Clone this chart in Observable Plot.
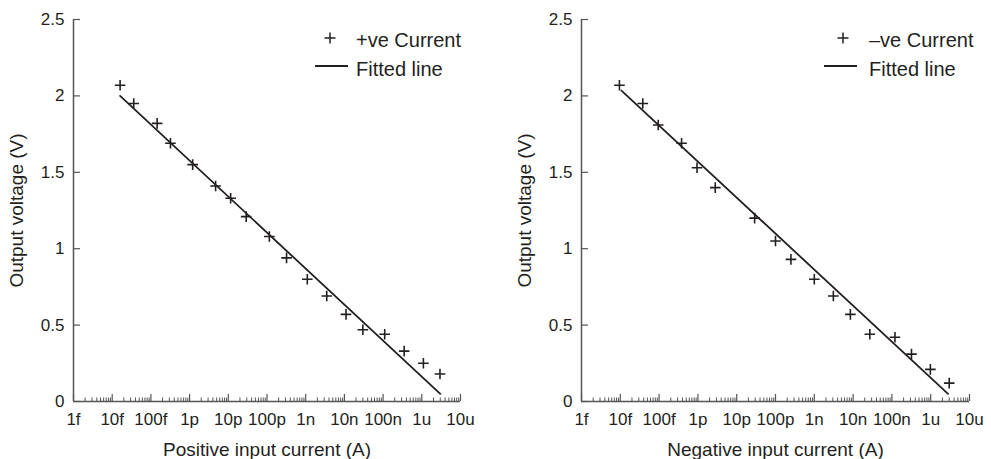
<!DOCTYPE html>
<html>
<head>
<meta charset="utf-8">
<script src="https://cdn.jsdelivr.net/npm/d3@7"></script>
<script src="https://cdn.jsdelivr.net/npm/@observablehq/plot@0.6"></script>
<style>
  body { margin: 0; background: #fff; }
  #wrap { position: relative; width: 991px; height: 459px; display: flex; font-family: "Liberation Sans", Arial, Helvetica, sans-serif; color: #231f20; }
  #wrap svg { display: block; overflow: visible; }
  .leg { position: absolute; font-size: 20px; line-height: 20px; white-space: nowrap; }
  g[aria-label="x-axis tick label"] text { font-size: 17px; }
  g[aria-label="y-axis tick label"] text { font-size: 17px; }
  g[aria-label="x-axis label"] text, g[aria-label="y-axis label"] text { font-size: 19px; }
</style>
</head>
<body>
<div id="wrap"></div>
<script>
// ---- data ----
const xTickValues = [1e-15, 1e-14, 1e-13, 1e-12, 1e-11, 1e-10, 1e-9, 1e-8, 1e-7, 1e-6, 1e-5];
const xTickLabels = ["1f", "10f", "100f", "1p", "10p", "100p", "1n", "10n", "100n", "1u", "10u"];
const yTickValues = [0, 0.5, 1, 1.5, 2, 2.5];
const yTickLabels = ["0", "0.5", "1", "1.5", "2", "2.5"];

// Positive input current panel
const posCurrent = [1.6e-14, 3.6e-14, 1.45e-13, 3.2e-13, 1.2e-12, 4.7e-12, 1.15e-11, 2.9e-11, 1.15e-10, 3.2e-10, 1.1e-9, 3.5e-9, 1.1e-8, 3.0e-8, 1.1e-7, 3.5e-7, 1.1e-6, 2.95e-6];
const posVoltage = [2.07, 1.95, 1.82, 1.69, 1.55, 1.41, 1.33, 1.21, 1.08, 0.94, 0.80, 0.69, 0.57, 0.47, 0.44, 0.33, 0.25, 0.18];
const posFitCurrent = [1.6e-14, 3.0e-6];
const posFitVoltage = [2.00, 0.05];

// Negative input current panel
const negCurrent = [9.5e-15, 3.8e-14, 9.5e-14, 3.8e-13, 9.5e-13, 2.8e-12, 2.9e-11, 1.0e-10, 2.5e-10, 1.0e-9, 3.1e-9, 8.5e-9, 2.7e-8, 1.2e-7, 3.2e-7, 9.8e-7, 3.0e-6];
const negVoltage = [2.07, 1.95, 1.81, 1.69, 1.53, 1.40, 1.20, 1.05, 0.93, 0.80, 0.69, 0.57, 0.44, 0.42, 0.31, 0.21, 0.12];
const negFitCurrent = [1.07e-14, 2.8e-6];
const negFitVoltage = [2.035, 0.05];

const posLegend = ["+ve Current", "Fitted line"];
const negLegend = ["\u2013ve Current", "Fitted line"];

// ---- drawing ----
const ink = "#231f20";
const axisInk = "#555";
const minorTicks = [];
for (let e = -15; e < -5; e++) for (let k = 2; k <= 9; k++) minorTicks.push(k * Math.pow(10, e));

const plusSymbol = {
  draw(ctx, size) {
    const r = Math.sqrt(size / Math.PI);
    ctx.moveTo(-r, 0); ctx.lineTo(r, 0);
    ctx.moveTo(0, -r); ctx.lineTo(0, r);
  }
};

function panel({width, marginRight, current, voltage, fitC, fitV, xLabel}) {
  const marginLeft = 73, marginTop = 19, marginBottom = 58, height = 459;
  const innerW = width - marginLeft - marginRight;
  const innerH = height - marginTop - marginBottom;
  const pts = current.map((c, i) => ({c, v: voltage[i]}));
  const fit = fitC.map((c, i) => ({c, v: fitV[i]}));
  return Plot.plot({
    width, height, marginLeft, marginRight, marginTop, marginBottom,
    style: {fontFamily: '"Liberation Sans", Arial, Helvetica, sans-serif', color: ink, background: "transparent", overflow: "visible"},
    x: {type: "log", domain: [1e-15, 1e-5]},
    y: {domain: [0, 2.5]},
    marks: [
      Plot.axisX(xTickValues, {
        anchor: "bottom", tickSize: 0, tickPadding: 11,
        tickFormat: d => xTickLabels[xTickValues.indexOf(d)],
        label: xLabel, labelAnchor: "center", labelArrow: "none", labelOffset: 54,
        fill: ink
      }),
      Plot.axisY(yTickValues, {
        anchor: "left", tickSize: 0, tickPadding: 9,
        tickFormat: d => yTickLabels[yTickValues.indexOf(d)],
        label: "Output voltage (V)", labelAnchor: "center", labelArrow: "none", labelOffset: 64,
        fill: ink
      }),
      Plot.tickY(yTickValues, {y: d => d, insetRight: innerW - 7, stroke: axisInk, strokeWidth: 1.2}),
      Plot.tickX(xTickValues, {x: d => d, insetTop: innerH - 7, stroke: axisInk, strokeWidth: 1.2}),
      Plot.tickX(minorTicks, {x: d => d, insetTop: innerH - 3.5, stroke: axisInk, strokeWidth: 1}),
      Plot.ruleX([1e-15], {stroke: axisInk, strokeWidth: 1.5}),
      Plot.ruleY([0], {stroke: axisInk, strokeWidth: 1.5}),
      Plot.line(fit, {x: "c", y: "v", stroke: ink, strokeWidth: 1.8}),
      Plot.dot(pts, {x: "c", y: "v", symbol: plusSymbol, r: 5.3, fill: "none", stroke: ink, strokeWidth: 1.6})
    ]
  });
}

const wrap = document.getElementById("wrap");
wrap.appendChild(panel({width: 508, marginRight: 48, current: posCurrent, voltage: posVoltage, fitC: posFitCurrent, fitV: posFitVoltage, xLabel: "Positive input current (A)"}));
wrap.appendChild(panel({width: 483, marginRight: 22, current: negCurrent, voltage: negVoltage, fitC: negFitCurrent, fitV: negFitVoltage, xLabel: "Negative input current (A)"}));

function legend(plusX, lineX1, lineX2, textX, labels) {
  const ns = "http://www.w3.org/2000/svg";
  const svg = document.createElementNS(ns, "svg");
  svg.setAttribute("width", 991); svg.setAttribute("height", 100);
  svg.style.position = "absolute"; svg.style.left = "0px"; svg.style.top = "0px";
  svg.style.pointerEvents = "none";
  const p = document.createElementNS(ns, "path");
  p.setAttribute("d", `M${plusX - 5.5},38H${plusX + 5.5}M${plusX},32.5V43.5`);
  p.setAttribute("stroke", ink); p.setAttribute("stroke-width", 1.5); p.setAttribute("fill", "none");
  svg.appendChild(p);
  const l = document.createElementNS(ns, "path");
  l.setAttribute("d", `M${lineX1},66H${lineX2}`);
  l.setAttribute("stroke", ink); l.setAttribute("stroke-width", 1.8);
  svg.appendChild(l);
  wrap.appendChild(svg);
  labels.forEach((t, i) => {
    const d = document.createElement("div");
    d.className = "leg";
    d.textContent = t;
    d.style.left = textX + "px";
    d.style.top = (i === 0 ? 29.5 : 59) + "px";
    wrap.appendChild(d);
  });
}
legend(330, 315, 348, 356, posLegend);
legend(843, 824, 857, 869, negLegend);
</script>
</body>
</html>
